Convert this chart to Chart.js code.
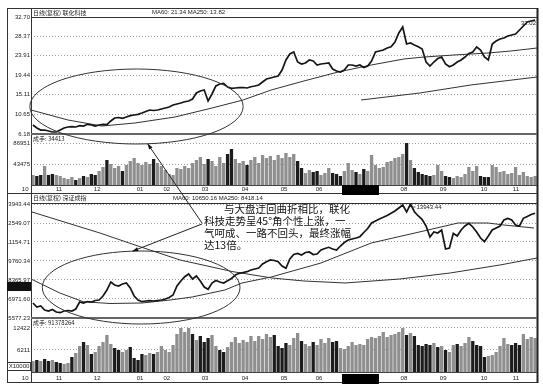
<!DOCTYPE html>
<html>
<head>
<meta charset="utf-8">
<script src="https://cdn.jsdelivr.net/npm/chart.js@4.4.1/dist/chart.umd.min.js"></script>
<style>
  html, body { margin: 0; padding: 0; background: #fff; }
  #wrap { position: relative; width: 543px; height: 385px; }
</style>
</head>
<body>
<div id="wrap"><canvas id="chart" width="543" height="385"></canvas></div>
<script>
// one point for about two trading days, Oct -> Nov of the next year

// 联化科技 (top)
var lhClose = [
    8.22, 7.54, 7.08, 7.08, 6.86, 6.63, 6.63, 7.08, 7.54, 7.77,
    7.83, 7.77, 8.06, 7.99, 8.38, 8.22, 7.99, 8.22, 8.38, 8.33,
    9.13, 9.81, 9.92, 9.74, 10.03, 10.33, 10.49, 10.64, 10.94, 11.28,
    11.62, 11.51, 11.62, 11.85, 12.07, 12.30, 12.75, 12.98, 13.21, 13.50,
    13.66, 14.11, 15.47, 15.93, 16.15, 13.66, 15.25, 17.06, 17.51, 17.63,
    16.83, 16.54, 16.61, 16.67, 16.72, 16.61, 16.90, 17.06, 17.29, 17.97,
    18.65, 18.87, 19.10, 19.33, 20.69, 22.95, 24.31, 24.77, 22.50, 22.05,
    22.27, 22.95, 22.73, 21.82, 22.05, 22.16, 22.27, 20.91, 20.46, 20.23,
    20.69, 21.82, 21.82, 21.59, 21.82, 21.25, 21.59, 22.73, 24.77, 24.99,
    25.22, 25.67, 25.97, 27.03, 29.07, 30.43, 26.58, 26.81, 26.35, 25.97,
    25.45, 22.50, 21.59, 22.50, 23.29, 23.63, 22.05, 21.43, 21.82, 22.50,
    22.95, 23.63, 24.43, 24.77, 25.90, 25.22, 23.63, 22.95, 26.58, 27.26,
    27.71, 27.94, 28.39, 28.62, 28.85, 29.75, 30.66, 31.57, 31.79, 32.02
];
var lhVol = [
    21000, 18900, 21000, 39900, 21000, 23100, 21000, 18900, 14700, 12600,
    16800, 10500, 14700, 18900, 16800, 23100, 21000, 29400, 37800, 52500,
    44100, 35700, 39900, 29400, 42000, 50400, 56700, 46200, 42000, 48300,
    44100, 54600, 46200, 39900, 31500, 23100, 21000, 35700, 33600, 39900,
    35700, 46200, 52500, 58800, 44100, 54600, 50400, 39900, 58800, 46200,
    65100, 75600, 54600, 46200, 50400, 42000, 52500, 58800, 46200, 63000,
    56700, 60900, 52500, 63000, 56700, 67200, 58800, 65100, 50400, 35700,
    25200, 31500, 27300, 29400, 21000, 25200, 35700, 25200, 23100, 18900,
    29400, 46200, 31500, 27300, 23100, 33600, 29400, 63000, 42000, 35700,
    37800, 48300, 50400, 56700, 58800, 65100, 88200, 52500, 35700, 27300,
    23100, 21000, 18900, 21000, 42000, 29400, 18900, 16800, 14700, 18900,
    16800, 23100, 37800, 29400, 39900, 18900, 16800, 16800, 42000, 37800,
    27300, 29400, 23100, 25200, 37800, 21000, 27300, 18900, 16800, 18900
];
var lhMa60 = [
    {x: -0.5, y: 11.62}, {x: 9, y: 9.35}, {x: 17.7, y: 7.99}, {x: 26.2, y: 8.67},
    {x: 36.5, y: 10.03}, {x: 46, y: 12.07}, {x: 54, y: 13.89}, {x: 61.2, y: 16.15},
    {x: 69.6, y: 18.19}, {x: 78.4, y: 20.23}, {x: 86.9, y: 21.82}, {x: 95.3, y: 23.18},
    {x: 100.5, y: 23.63}, {x: 108.2, y: 24.09}, {x: 116.9, y: 24.54}, {x: 122.8, y: 24.99},
    {x: 129.5, y: 25.67}
];
var lhMa250 = [
    {x: 84.3, y: 13.89}, {x: 99.4, y: 15.47}, {x: 112.5, y: 17.29}, {x: 129.5, y: 19.10}
];
var lhTicks = [32.70, 28.37, 23.91, 19.44, 15.11, 10.65, 6.18];
var lhVolTicks = [86951, 43475];

// 深证成指 (bottom)
var szClose = [
    6678, 6384, 6458, 6164, 6091, 6201, 6017, 5966, 6091, 6127,
    6091, 6237, 6751, 6678, 6788, 6751, 6861, 6898, 7192, 7632,
    8219, 7999, 7925, 8072, 8146, 7779, 7192, 6898, 6773, 6825,
    6847, 6825, 6861, 6898, 6971, 7081, 7265, 7925, 8292, 8608,
    8806, 8439, 8659, 8292, 7852, 7683, 8146, 8329, 8219, 8146,
    8314, 8476, 8733, 8858, 8916, 8975, 9100, 9173, 9246, 9540,
    9709, 9834, 9797, 9709, 9393, 9224, 9907, 10237, 10311, 10201,
    10384, 10421, 10237, 10274, 10568, 10678, 10766, 10641, 10568, 10861,
    11118, 11301, 11375, 11448, 11544, 11852, 12145, 12549, 12696, 12843,
    12967, 13099, 13261, 13430, 13650, 13870, 13356, 13943, 13378, 13063,
    12806, 12329, 11522, 11889, 11815, 12035, 10641, 10714, 11793, 11595,
    12035, 12329, 12527, 12255, 11889, 11448, 11177, 11595, 12035, 12182,
    12329, 12769, 12879, 12769, 12402, 12329, 12894, 13026, 13173, 13261
];
var szVol = [
    3105, 3388, 3105, 3670, 3105, 3388, 2823, 2541, 2258, 2541,
    4235, 5364, 7340, 8469, 7622, 5081, 5646, 7340, 8469, 10445,
    7904, 6775, 6211, 5646, 6211, 7058, 3952, 3388, 5081, 4799,
    5364, 5081, 5646, 7340, 6211, 5646, 7622, 10727, 12421, 11292,
    12421, 10727, 9034, 10163, 8469, 9598, 10445, 7340, 6211, 5646,
    7058, 8469, 9881, 8187, 9034, 8469, 10163, 8751, 10163, 9316,
    10727, 9881, 10445, 7340, 6775, 8187, 7622, 9598, 11010, 8751,
    7904, 7340, 8469, 7622, 9316, 8187, 9598, 8469, 8751, 6775,
    6493, 7340, 8469, 7622, 7904, 7622, 9316, 9881, 9598, 10163,
    11292, 9881, 10445, 10727, 11292, 12421, 10445, 11010, 10163, 7622,
    7340, 7904, 7622, 8187, 7058, 7340, 6211, 5646, 7622, 7904,
    7340, 8187, 9881, 8751, 7622, 7340, 4235, 4517, 4799, 5646,
    7340, 9598, 7904, 7622, 8187, 7622, 10727, 9316, 9881, 9598
];
var szMa60 = [
    {x: -0.5, y: 8439}, {x: 6.9, y: 7412}, {x: 12.9, y: 6773}, {x: 19.8, y: 6641},
    {x: 28, y: 6678}, {x: 35.2, y: 6898}, {x: 40.9, y: 7118}, {x: 49.3, y: 7632},
    {x: 53.7, y: 8146}, {x: 61.2, y: 8586}, {x: 74, y: 9613}, {x: 86.9, y: 11081},
    {x: 101.5, y: 12035}, {x: 109.2, y: 12549}, {x: 116.9, y: 12549}, {x: 121, y: 12402},
    {x: 128.7, y: 12182}
];
var szMa250 = [
    {x: -0.5, y: 13378}, {x: 17.2, y: 11815}, {x: 27.5, y: 10810}, {x: 37.8, y: 9834},
    {x: 51.4, y: 8975}, {x: 61.4, y: 8513}, {x: 69.6, y: 8293}, {x: 80.2, y: 8146},
    {x: 94.3, y: 8440}, {x: 107.2, y: 8880}, {x: 120, y: 9467}, {x: 129.5, y: 9980}
];
var szTicks = [13943.44, 12549.07, 11154.71, 9760.34, 8365.97, 6971.60, 5577.23];
var szVolTicks = [12422, 6211];

// month tick labels and where they sit on the index axis
var monthLabels = ['10', '11', '12', '01', '02', '03', '04', '05', '06', '07', '08', '09', '10', '11'];
var monthPos = [-2.0, 6.7, 16.5, 27.5, 34.4, 44.2, 54.5, 64.5, 73.5, 84.1, 95.3, 105.4, 115.9, 124.1];
var hiddenMonth = [79.4, 88.9]; // the black block over 07

// notes drawn over the chart
var topOval = {cx: 26.6, cy: 12.41, rx: 27.4, ry: 8.5};
var bottomOval = {cx: 27.8, cy: 7815, rx: 25.4, ry: 2679};
var noteLines = ['与大盘迂回曲折相比，联化', '科技走势呈45°角个性上涨，一', '气呵成、一路不回头，最终涨幅', '达13倍。'];

var tickFont = {family: "'Liberation Sans', Arial, sans-serif", size: 6};
var cjk = "'Noto Sans CJK SC', sans-serif";

const toXY = arr => arr.map((v, i) => ({x: i, y: v}));
const volColors = (vol, close) => vol.map((v, i) => (i > 0 && close[i] < close[i - 1]) ? '#1c1c1c' : '#8f8f8f');

function priceAxis(weight, stackWeight, min, max, ticks, digits) {
    return {
        type: 'linear',
        position: 'left',
        stack: 'all',
        stackWeight: stackWeight,
        weight: weight,
        min: min,
        max: max,
        afterBuildTicks: axis => { axis.ticks = ticks.map(v => ({value: v})); },
        afterFit: axis => { axis.width = 24; },
        ticks: {
            autoSkip: false,
            padding: 1,
            color: '#222',
            font: tickFont,
            callback: v => v.toFixed(digits)
        },
        grid: {color: '#8a8a8a', lineWidth: 0.8, drawTicks: false},
        border: {display: false, dash: [1, 2]}
    };
}

const overlay = {
    id: 'overlay',
    beforeDraw(chart) {
        const ctx = chart.ctx;
        ctx.save();
        ctx.fillStyle = '#fff';
        ctx.fillRect(0, 0, chart.width, chart.height);
        ctx.restore();
    },
    afterDraw(chart) {
        const {ctx, chartArea: a, scales: s} = chart;
        const L = a.left, R = a.right;
        const line = (x1, y1, x2, y2, w, c) => {
            ctx.beginPath();
            ctx.lineWidth = w;
            ctx.strokeStyle = c;
            ctx.moveTo(x1, y1);
            ctx.lineTo(x2, y2);
            ctx.stroke();
        };
        ctx.save();

        // frame and panel rules
        ctx.strokeStyle = '#333';
        ctx.lineWidth = 1;
        ctx.strokeRect(7.5, 8.5, R - 7, 374);
        line(R + 0.5, 8, R + 0.5, 383, 2, '#222');
        line(L + 0.5, 8, L + 0.5, 383, 1, '#333');
        line(L, s.p1.top + 0.5, R, s.p1.top + 0.5, 1, '#333');
        line(L, s.p2.top - 0.5, R, s.p2.top - 0.5, 1, '#333');
        line(L, s.p1.bottom, R, s.p1.bottom, 2, '#666');
        line(L, s.p2.bottom, R, s.p2.bottom, 2, '#666');
        line(L, s.v1.bottom + 0.5, R, s.v1.bottom + 0.5, 1, '#444');
        line(L, s.v2.bottom + 0.5, R, s.v2.bottom + 0.5, 1, '#444');
        line(7, 193.5, R, 193.5, 1, '#333');

        // header texts
        ctx.fillStyle = '#222';
        ctx.textBaseline = 'middle';
        ctx.textAlign = 'left';
        ctx.font = '6px ' + cjk;
        ctx.fillText('日线(复权) 联化科技', L + 2, s.p1.top - 4.5);
        ctx.fillText('日线(复权) 深证成指', L + 2, s.p2.top - 6);
        ctx.fillText('成手: 34413', L + 2, s.v1.top + 4.5);
        ctx.fillText('成手: 91378264', L + 2, s.v2.top + 4.5);
        ctx.font = "6px 'Liberation Sans', sans-serif";
        ctx.fillText('MA60: 21.34 MA250: 13.82', 152, s.p1.top - 4.5);
        ctx.fillText('MA60: 10650.16 MA250: 8418.14', 173, s.p2.top - 6);

        // extreme value marks
        const hiTop = lhClose.indexOf(Math.max(...lhClose));
        ctx.textAlign = 'right';
        ctx.fillText(Math.max(...lhClose).toFixed(2), R - 1, s.p1.getPixelForValue(lhClose[hiTop]) + 3);
        const hiBot = szClose.indexOf(Math.max(...szClose));
        ctx.textAlign = 'left';
        const hx = s.x.getPixelForValue(hiBot), hy = s.p2.getPixelForValue(szTicks[0]);
        line(hx + 1, hy + 3, hx + 5, hy + 3, 0.8, '#333');
        ctx.fillText(szTicks[0].toFixed(2), hx + 6, hy + 3.5);

        // highlighted boxes at the left axis
        ctx.fillStyle = '#111';
        ctx.fillRect(7, s.p2.getPixelForValue(szTicks[4]) + 2, 24, 9);
        ctx.strokeStyle = '#333';
        ctx.lineWidth = 1;
        ctx.strokeRect(7.5, s.v2.bottom - 9.5, 23, 8);
        ctx.fillStyle = '#222';
        ctx.textAlign = 'center';
        ctx.fillText('X10000', 19, s.v2.bottom - 5.5);

        // month rows
        [s.v1.bottom + 4.5, s.v2.bottom + 6.5].forEach(y => {
            ctx.fillStyle = '#222';
            ctx.textAlign = 'center';
            monthLabels.forEach((m, i) => {
                ctx.fillText(m, s.x.getPixelForValue(monthPos[i]), y);
            });
            const x1 = s.x.getPixelForValue(hiddenMonth[0]);
            const x2 = s.x.getPixelForValue(hiddenMonth[1]);
            ctx.fillStyle = '#000';
            ctx.fillRect(x1, y - 4.5, x2 - x1, 10);
        });

        // ovals
        const oval = (o, ys) => {
            const cx = s.x.getPixelForValue(o.cx), cy = ys.getPixelForValue(o.cy);
            const rx = Math.abs(s.x.getPixelForValue(o.cx + o.rx) - cx);
            const ry = Math.abs(ys.getPixelForValue(o.cy + o.ry) - cy);
            ctx.beginPath();
            ctx.lineWidth = 1;
            ctx.strokeStyle = '#333';
            ctx.ellipse(cx, cy, rx, ry, 0, 0, Math.PI * 2);
            ctx.stroke();
            return {cx, cy, rx, ry};
        };
        const o1 = oval(topOval, s.p1);
        const o2 = oval(bottomOval, s.p2);

        // note text and arrows
        const tx = 204, ty = s.p2.top + 5;
        const arrow = (x1, y1, o, deg) => {
            const t = deg * Math.PI / 180;
            const x2 = o.cx + o.rx * Math.cos(t), y2 = o.cy + o.ry * Math.sin(t);
            line(x1, y1, x2, y2, 1, '#222');
            const ang = Math.atan2(y2 - y1, x2 - x1);
            ctx.beginPath();
            ctx.fillStyle = '#111';
            ctx.moveTo(x2, y2);
            ctx.lineTo(x2 - 6 * Math.cos(ang - 0.35), y2 - 6 * Math.sin(ang - 0.35));
            ctx.lineTo(x2 - 6 * Math.cos(ang + 0.35), y2 - 6 * Math.sin(ang + 0.35));
            ctx.closePath();
            ctx.fill();
        };
        arrow(tx - 2, ty + 14, o1, 84);
        arrow(tx - 2, ty + 15, o2, -95);

        ctx.fillStyle = '#111';
        ctx.textAlign = 'left';
        ctx.font = '10.5px ' + cjk;
        noteLines.forEach((t, i) => {
            ctx.fillText(t, tx + (i === 0 ? 20 : 0), ty + i * 12);
        });
        ctx.restore();
    }
};

new Chart(document.getElementById('chart'), {
    type: 'bar',
    data: {
        datasets: [
            {type: 'line', data: toXY(lhClose), yAxisID: 'p1', borderColor: '#151515', borderWidth: 1.7, pointRadius: 0},
            {type: 'line', data: toXY(szClose), yAxisID: 'p2', borderColor: '#151515', borderWidth: 1.7, pointRadius: 0},
            {type: 'line', data: lhMa60, yAxisID: 'p1', borderColor: '#333', borderWidth: 1, pointRadius: 0},
            {type: 'line', data: lhMa250, yAxisID: 'p1', borderColor: '#333', borderWidth: 1, pointRadius: 0},
            {type: 'line', data: szMa60, yAxisID: 'p2', borderColor: '#333', borderWidth: 1, pointRadius: 0},
            {type: 'line', data: szMa250, yAxisID: 'p2', borderColor: '#333', borderWidth: 1, pointRadius: 0},
            {data: toXY(lhVol), yAxisID: 'v1', backgroundColor: volColors(lhVol, lhClose), grouped: false, barPercentage: 0.85, categoryPercentage: 1},
            {data: toXY(szVol), yAxisID: 'v2', backgroundColor: volColors(szVol, szClose), grouped: false, barPercentage: 0.85, categoryPercentage: 1}
        ]
    },
    options: {
        responsive: false,
        animation: false,
        events: [],
        layout: {padding: {left: 7, right: 6, top: 17, bottom: 13}},
        plugins: {legend: {display: false}, tooltip: {enabled: false}},
        scales: {
            x: {type: 'linear', min: -0.5, max: 129.5, offset: false, display: false},
            p1: priceAxis(5, 117, 6.18, 32.70, lhTicks, 2),
            v1: priceAxis(4, 51, 0, 107100, lhVolTicks, 0),
            gap: {type: 'linear', position: 'left', stack: 'all', stackWeight: 19, weight: 3, min: 0, max: 1, display: false, afterFit: axis => { axis.width = 24; }},
            p2: priceAxis(2, 114, 5577.23, 13943.44, szTicks, 2),
            v2: priceAxis(1, 54, 0, 15245, szVolTicks, 0)
        }
    },
    plugins: [overlay]
});
</script>
</body>
</html>
